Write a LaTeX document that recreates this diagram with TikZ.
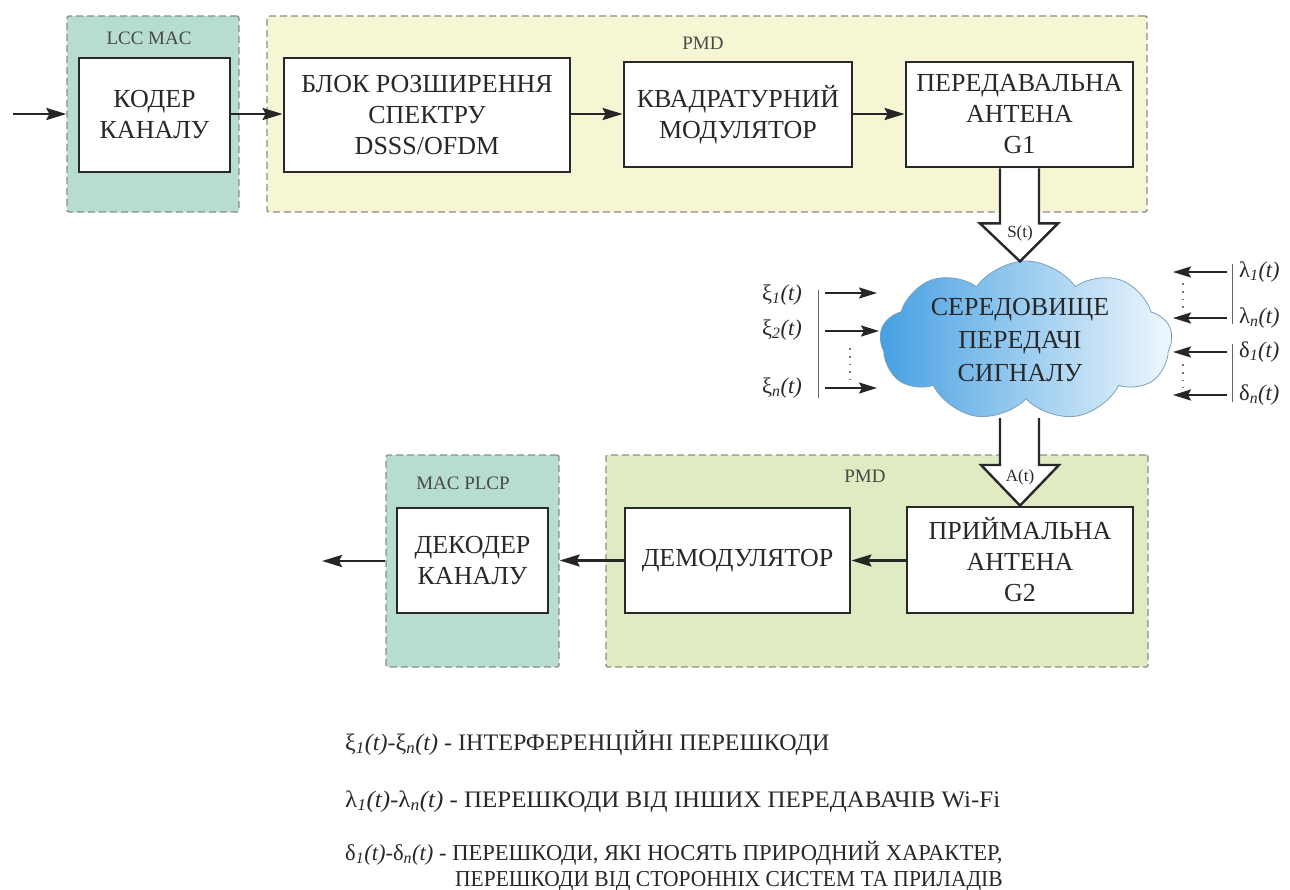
\documentclass[tikz,border=0pt]{standalone}
\usepackage{fontspec}
\setmainfont{Liberation Serif}
\usetikzlibrary{arrows.meta,shapes.symbols,calc}
\definecolor{tealfill}{RGB}{183,221,206}
\definecolor{yelfill}{RGB}{246,246,212}
\definecolor{grnfill}{RGB}{222,235,195}
\definecolor{grpline}{RGB}{140,140,140}
\definecolor{boxline}{RGB}{40,40,40}
\definecolor{cloudL}{RGB}{70,160,226}
\definecolor{cloudR}{RGB}{240,248,253}
\definecolor{cloudline}{RGB}{120,160,190}
\definecolor{txt}{RGB}{40,40,40}
\begin{document}
\begin{tikzpicture}[x=1pt,y=-1pt,
  grp/.style={draw=grpline, dash pattern=on 7pt off 4pt, line width=1.3pt, rounded corners=2pt, inner sep=0pt},
  blk/.style={draw=boxline, fill=white, line width=2.8pt, align=center, font=\fontsize{26}{31}\selectfont, text=txt, inner sep=0pt},
  grplabel/.style={font=\fontsize{19}{20}\selectfont, text=txt!85},
  arr/.style={draw=black!85, line width=2.6pt, -{Stealth[length=20pt,width=12pt,inset=3pt]}},
  narr/.style={draw=black!85, line width=2.2pt, -{Stealth[length=18pt,width=11pt,inset=3pt]}},
  hollow/.style={draw=boxline, fill=white, line width=2.4pt, line join=miter},
  noise/.style={font=\fontsize{22.5}{24}\selectfont, text=txt, inner sep=1pt},
  vline/.style={draw=black!60, line width=1pt},
  dots/.style={draw=black!55, line width=1.8pt, dash pattern=on 1.8pt off 6pt},
  legend/.style={font=\fontsize{21.5}{24}\selectfont, text=txt, anchor=base west, inner sep=0pt}
]
\fill[white] (0,0) rectangle (1290,889);
\useasboundingbox (0,0) rectangle (1290,889);

% groups
\node[grp, fill=tealfill, minimum width=172pt, minimum height=196pt] (lcc) at (153,114) {};
\node[grp, fill=yelfill, minimum width=880pt, minimum height=196pt] (pmdt) at (707,114) {};
\node[grp, fill=tealfill, minimum width=173pt, minimum height=212pt] (macg) at (472.5,561) {};
\node[grp, fill=grnfill, minimum width=542pt, minimum height=212pt] (pmdb) at (877,561) {};

\node[grplabel] (lbllcc) at (149,38) {LCC MAC};
\node[grplabel] (lblpmdt) at (703,43) {PMD};
\node[grplabel] (lblmac) at (463,483) {MAC PLCP};
\node[grplabel] (lblpmdb) at (865,476) {PMD};

% blocks
\node[blk, minimum width=151pt, minimum height=114pt] (koder) at (154.5,115) {КОДЕР\\КАНАЛУ};
\node[blk, minimum width=286pt, minimum height=114pt] (blok) at (427,115) {БЛОК РОЗШИРЕННЯ\\СПЕКТРУ\\DSSS/OFDM};
\node[blk, minimum width=228pt, minimum height=105pt] (kvad) at (738,114.5) {КВАДРАТУРНИЙ\\МОДУЛЯТОР};
\node[blk, minimum width=227pt, minimum height=105pt] (pered) at (1019.5,114.5) {ПЕРЕДАВАЛЬНА\\АНТЕНА\\G1};
\node[blk, minimum width=151pt, minimum height=105pt] (dekod) at (472.5,560.5) {ДЕКОДЕР\\КАНАЛУ};
\node[blk, minimum width=225pt, minimum height=105pt] (demod) at (737.5,560.5) {ДЕМОДУЛЯТОР};
\node[blk, minimum width=226pt, minimum height=106pt] (priym) at (1020,560) {ПРИЙМАЛЬНА\\АНТЕНА\\G2};

% cloud
\node[cloud, cloud puffs=9, cloud puff arc=110, aspect=1.85, minimum width=292pt, minimum height=160pt,
      left color=cloudL, right color=cloudR, draw=cloudline, line width=0.8pt] (cloud) at (1026,341) {};
\node[align=center, font=\fontsize{26}{33}\selectfont, text=txt] (ctext) at (1020,340) {СЕРЕДОВИЩЕ\\ПЕРЕДАЧІ\\СИГНАЛУ};

% main arrows
\coordinate (in) at (13,114);
\coordinate (out) at (322,561);
\draw[arr] (in) -- (lcc.west |- in);
\draw[arr] (koder.east |- in) -- (blok.west |- in);
\draw[arr] (blok.east |- in) -- (kvad.west |- in);
\draw[arr] (kvad.east |- in) -- (pered.west |- in);
\draw[arr] (priym.west |- demod) -- (demod.east);
\draw[arr] (demod.west) -- (macg.east |- demod);
\draw[arr] (macg.west |- out) -- (out);

% hollow arrows
\draw[hollow] ($(pered.south)+(-19.5,0)$) -- ++(0,55) -- ++(-20,0) -- ($(pered.south)+(0.5,93)$) -- ++(38,-38) -- ++(-19,0) -- ($(pered.south)+(19.5,0)$);
\node[font=\fontsize{17}{18}\selectfont, text=txt, inner sep=0pt] (st) at (1020,233) {S(t)};
\coordinate (ctop) at (1000,418);
\draw[hollow] (ctop) -- (1000,465) -- (981,465) -- (priym.north) -- (1059,465) -- (1039,465) -- (1039,418);
\node[font=\fontsize{17}{18}\selectfont, text=txt, inner sep=0pt] (at) at (1020,477) {A(t)};

% left noise
\node[noise, anchor=east] (x1) at (803,295) {ξ\textsubscript{\textit{1}}\textit{(t)}};
\node[noise, anchor=east] (x2) at (803,330) {ξ\textsubscript{\textit{2}}\textit{(t)}};
\node[noise, anchor=east] (xn) at (803,388) {ξ\textsubscript{\textit{n}}\textit{(t)}};
\draw[vline] (818,290) -- (818,398);
\coordinate (xa1) at (825,293); \coordinate (xb1) at (877,293);
\coordinate (xa2) at (825,331); \coordinate (xb2) at (879,331);
\coordinate (xan) at (825,388); \coordinate (xbn) at (877,388);
\draw[narr] (xa1) -- (xb1);
\draw[narr] (xa2) -- (xb2);
\draw[narr] (xan) -- (xbn);
\draw[dots] (850,348) -- (850,380);

% right noise
\node[noise, anchor=west] (l1) at (1238,272) {λ\textsubscript{\textit{1}}\textit{(t)}};
\node[noise, anchor=west] (ln) at (1238,318) {λ\textsubscript{\textit{n}}\textit{(t)}};
\node[noise, anchor=west] (d1) at (1238,352) {δ\textsubscript{\textit{1}}\textit{(t)}};
\node[noise, anchor=west] (dn) at (1238,395) {δ\textsubscript{\textit{n}}\textit{(t)}};
\draw[vline] (1232,264) -- (1232,324);
\draw[vline] (1232,344) -- (1232,402);
\coordinate (ra1) at (1227,272); \coordinate (rb1) at (1173,272);
\coordinate (ra2) at (1227,318); \coordinate (rb2) at (1173,318);
\coordinate (ra3) at (1227,352); \coordinate (rb3) at (1173,352);
\coordinate (ra4) at (1227,395); \coordinate (rb4) at (1173,395);
\draw[narr] (ra1) -- (rb1);
\draw[narr] (ra2) -- (rb2);
\draw[narr] (ra3) -- (rb3);
\draw[narr] (ra4) -- (rb4);
\draw[dots] (1183,283) -- (1183,310);
\draw[dots] (1183,364) -- (1183,388);

% legend
\node[legend] (leg1) at (345,750) {\scalebox{1.12}[1.1]{ξ\textsubscript{\textit{1}}\textit{(t)}-ξ\textsubscript{\textit{n}}\textit{(t)} - ІНТЕРФЕРЕНЦІЙНІ ПЕРЕШКОДИ}};
\node[legend] (leg2) at (345,807) {\scalebox{1.16}[1.1]{λ\textsubscript{\textit{1}}\textit{(t)}-λ\textsubscript{\textit{n}}\textit{(t)} - ПЕРЕШКОДИ ВІД ІНШИХ ПЕРЕДАВАЧІВ Wi-Fi}};
\node[legend] (leg3) at (345,860) {\scalebox{1.05}[1.06]{δ\textsubscript{\textit{1}}\textit{(t)}-δ\textsubscript{\textit{n}}\textit{(t)} - ПЕРЕШКОДИ, ЯКІ НОСЯТЬ ПРИРОДНИЙ ХАРАКТЕР,}};
\node[legend] (leg4) at (455,886) {\scalebox{1.0}[1.06]{ПЕРЕШКОДИ ВІД СТОРОННІХ СИСТЕМ ТА ПРИЛАДІВ}};
\end{tikzpicture}
\end{document}
